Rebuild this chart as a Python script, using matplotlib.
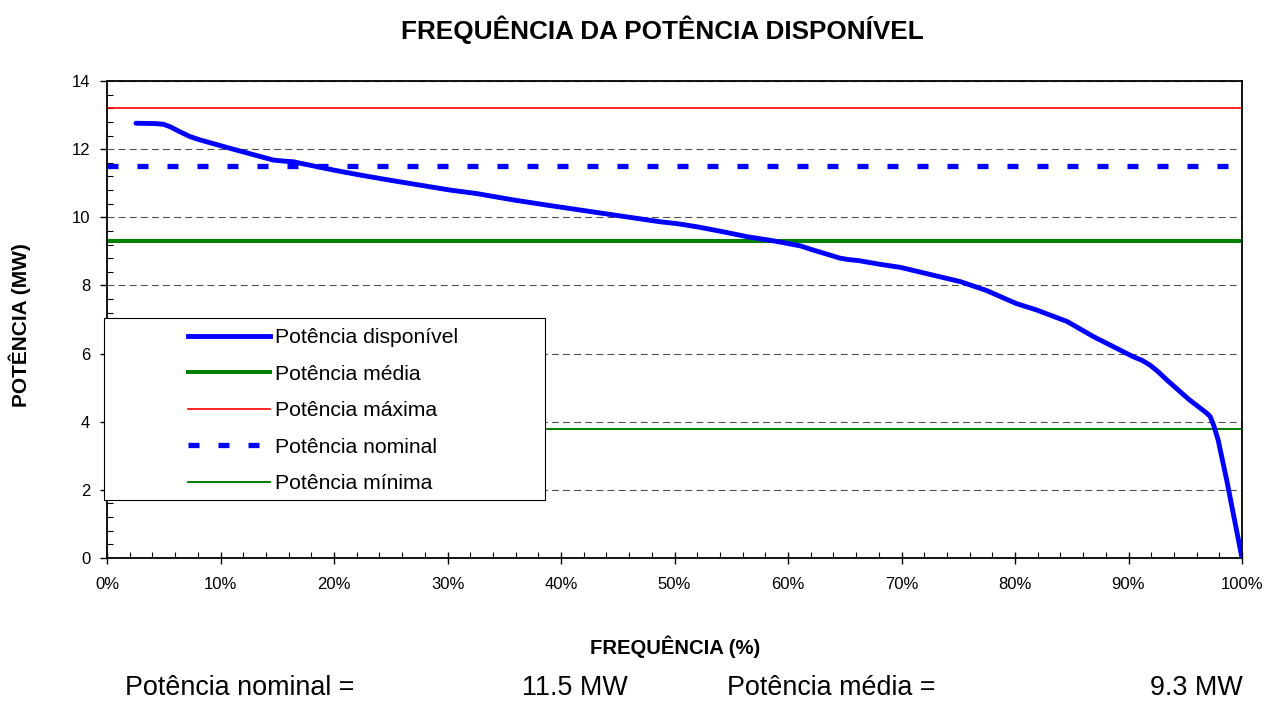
import matplotlib
matplotlib.use("Agg")
import matplotlib.pyplot as plt
from matplotlib.ticker import MultipleLocator, FuncFormatter
from matplotlib.patches import Rectangle
from matplotlib.lines import Line2D

plt.rcParams['font.family'] = ['Liberation Sans', 'DejaVu Sans']
plt.rcParams['lines.scale_dashes'] = False

# ---- data ----
freq = [2.55, 4.3, 4.96, 5.55, 6.3, 7.3, 8.2, 11.1, 14.65, 15.5, 16.4, 19.9,
        22.3, 24.9, 30.2, 32.5, 35.8, 38.7, 44.6, 48.7, 50.3, 52.0, 54.2, 56.4,
        58.7, 61.1, 62.2, 63.4, 64.6, 65.3, 66.2, 68.1, 69.9, 75.2, 77.5, 80.1,
        81.9, 84.6, 86.9, 90.4, 91.2, 91.9, 92.6, 93.4, 95.3, 96.9, 97.2, 97.5,
        97.9, 98.65, 100.0]
pot_disp = [12.76, 12.75, 12.73, 12.66, 12.53, 12.37, 12.27, 12.0, 11.68, 11.65,
            11.63, 11.39, 11.24, 11.09, 10.80, 10.70, 10.51, 10.36, 10.07, 9.87,
            9.81, 9.72, 9.58, 9.43, 9.31, 9.16, 9.04, 8.92, 8.80, 8.76, 8.73,
            8.62, 8.53, 8.11, 7.85, 7.47, 7.28, 6.94, 6.50, 5.91, 5.80, 5.66,
            5.47, 5.22, 4.66, 4.25, 4.15, 3.90, 3.46, 2.29, 0.0]
pot_media = 9.3
pot_maxima = 13.2
pot_nominal = 11.5
pot_minima = 3.8

labels = ["Potência disponível", "Potência média", "Potência máxima",
          "Potência nominal", "Potência mínima"]
title = "FREQUÊNCIA DA POTÊNCIA DISPONÍVEL"
xlabel = "FREQUÊNCIA (%)"
ylabel = "POTÊNCIA (MW)"

W, H = 1271, 705
fig = plt.figure(figsize=(W / 100, H / 100), dpi=100)
L, R, T, B = 107, 1242, 81, 558
ax = fig.add_axes([L / W, 1 - B / H, (R - L) / W, (B - T) / H])

blue = '#0000FF'
green = '#008000'
red = '#FF0000'

# grid
ax.set_axisbelow(True)
ax.yaxis.grid(True, which='major', color='#505050', linestyle=(0, (5.0, 3.0)), linewidth=0.8)

h_disp, = ax.plot(freq, pot_disp, color=blue, lw=3.5, solid_capstyle='round',
                  solid_joinstyle='round', zorder=3)
ax.axhline(pot_media, color=green, lw=2.9, zorder=2.2)
ax.axhline(pot_maxima, color=red, lw=1.2, zorder=2.2)
ax.axhline(pot_nominal, color=blue, lw=3.8, linestyle=(0, (7.9, 13.7)),
           dash_capstyle='butt', zorder=2.2)
ax.axhline(pot_minima, color=green, lw=1.4, zorder=2.2)

ax.set_xlim(0, 100)
ax.set_ylim(0, 14)
ax.xaxis.set_major_locator(MultipleLocator(10))
ax.xaxis.set_minor_locator(MultipleLocator(2))
ax.yaxis.set_major_locator(MultipleLocator(2))
ax.yaxis.set_minor_locator(MultipleLocator(0.4))
ax.xaxis.set_major_formatter(FuncFormatter(lambda v, p: f"{v:.0f}%"))
ax.tick_params(axis='x', which='major', direction='inout', length=9, width=1.0,
               labelsize=12, pad=9)
ax.tick_params(axis='x', which='minor', direction='in', length=4, width=0.8)
ax.tick_params(axis='y', which='major', direction='out', length=5, width=1.0,
               labelsize=12, pad=7)
ax.tick_params(axis='y', which='minor', direction='in', length=4, width=0.8)
for s in ax.spines.values():
    s.set_linewidth(1.3)
    s.set_color('black')

# legend frame
x0 = (104 - L) / (R - L)
x1 = (545 - L) / (R - L)
y0 = (B - 500) / (B - T)
y1 = (B - 318) / (B - T)
rect = Rectangle((x0, y0), x1 - x0, y1 - y0, transform=ax.transAxes,
                 facecolor='white', edgecolor='black', lw=0.8, zorder=4,
                 clip_on=False)
ax.add_patch(rect)

handles = [
    Line2D([], [], color=blue, lw=3.5),
    Line2D([], [], color=green, lw=2.9),
    Line2D([], [], color=red, lw=1.2),
    Line2D([], [], color=blue, lw=3.8, linestyle=(0, (7.9, 13.7)), dash_capstyle='butt'),
    Line2D([], [], color=green, lw=1.4),
]
leg = ax.legend(handles, labels, loc='upper left',
                bbox_to_anchor=((188 - L) / (R - L), (B - 328) / (B - T)),
                frameon=False, borderpad=0, borderaxespad=0,
                handlelength=3.9, handletextpad=0.2, labelspacing=0.83,
                fontsize=15.2)
leg.set_zorder(5)

fig.text(662 / W, 1 - 30 / H, title, ha='center', va='center',
         fontsize=18.8, fontweight='bold')
fig.text(675 / W, 1 - 647 / H, xlabel, ha='center', va='center',
         fontsize=14.6, fontweight='bold')
fig.text(20 / W, 1 - 325 / H, ylabel, ha='center', va='center',
         rotation=90, fontsize=15, fontweight='bold')

fs = 19.4
fig.text(125 / W, 1 - 688 / H, "Potência nominal =", ha='left', va='center', fontsize=fs)
fig.text(628 / W, 1 - 688 / H, f"{pot_nominal:.1f} MW", ha='right', va='center', fontsize=fs)
fig.text(727 / W, 1 - 688 / H, "Potência média =", ha='left', va='center', fontsize=fs)
fig.text(1243 / W, 1 - 688 / H, f"{pot_media:.1f} MW", ha='right', va='center', fontsize=fs)

fig.savefig("out.png", dpi=100)
